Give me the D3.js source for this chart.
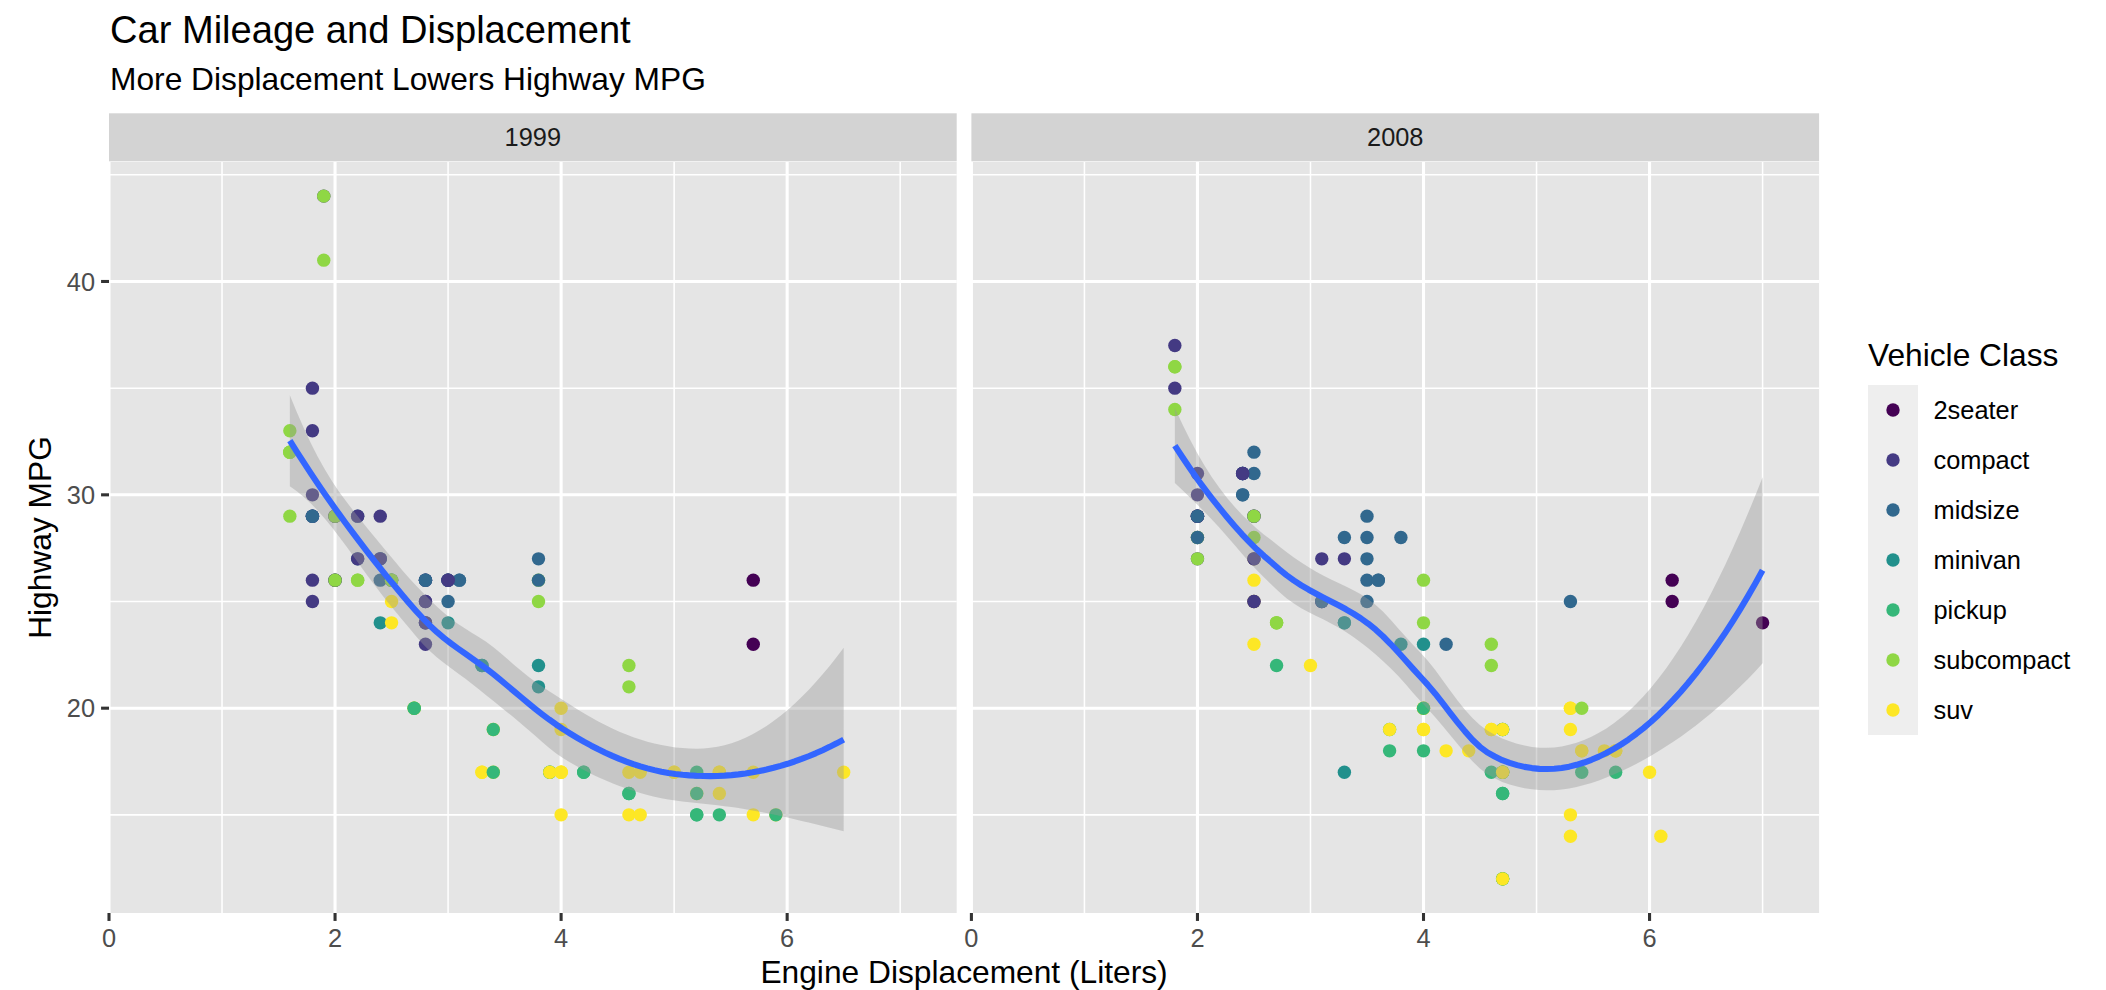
<!DOCTYPE html>
<html>
<head>
<meta charset="utf-8">
<script src="https://cdn.jsdelivr.net/npm/d3@7"></script>
<style>
  body { margin: 0; background: #ffffff; }
  svg { display: block; }
  text { font-family: "Liberation Sans", Arial, Helvetica, sans-serif; }
</style>
</head>
<body>
<svg id="chart" width="2106" height="990"></svg>
<script>
// ---------------------------------------------------------------
// Data: engine displacement (L), highway MPG and vehicle class,
// one set of arrays per model year, in the original row order.
// ---------------------------------------------------------------
const classes = ["2seater", "compact", "midsize", "minivan", "pickup", "subcompact", "suv"];
const classColors = ["#440154", "#443A83", "#31688E", "#21908C", "#35B779", "#8FD744", "#FDE725"];
const years = ["1999", "2008"];

const displ1999 = [1.8,1.8,2.8,2.8,1.8,1.8,2.8,2.8,2.8,5.7,5.7,5.7,5.7,6.5,2.4,3.1,2.4,3.0,3.3,3.3,
  3.8,3.8,3.9,3.9,5.2,5.2,3.9,5.2,5.9,5.2,5.2,5.9,4.6,5.4,4.0,4.0,4.0,5.0,4.2,4.2,
  4.6,4.6,5.4,3.8,3.8,4.6,4.6,1.6,1.6,1.6,1.6,1.6,2.4,2.4,2.5,2.5,2.0,2.0,4.0,4.7,
  4.0,4.6,5.4,5.4,4.0,5.0,2.4,2.4,3.0,3.0,3.3,3.3,3.1,3.8,3.8,2.5,2.5,2.2,2.2,2.5,
  2.5,2.7,2.7,3.4,3.4,2.2,2.2,3.0,3.0,2.2,2.2,3.0,3.0,1.8,1.8,1.8,4.7,2.7,2.7,3.4,
  3.4,2.0,2.0,2.8,1.9,2.0,2.0,2.8,2.8,1.9,1.9,2.0,2.0,1.8,1.8,2.8,2.8];
const hwy1999 = [29,29,26,26,26,25,25,25,24,17,26,23,15,17,27,26,24,24,22,22,
  22,21,17,17,15,17,17,16,15,15,16,15,17,17,17,19,17,17,17,17,
  16,16,15,26,25,21,22,33,32,32,29,32,26,27,26,26,26,29,20,17,
  15,15,17,16,17,17,29,27,26,25,17,17,26,26,27,25,24,26,26,26,
  26,20,20,19,17,29,27,26,26,27,29,26,26,30,33,35,15,20,20,17,
  19,29,26,24,44,29,26,23,24,44,41,29,26,29,29,26,26];
const class1999 = ["compact","compact","compact","compact","compact","compact","compact","compact","midsize","suv",
  "2seater","2seater","suv","suv","midsize","midsize","minivan","minivan","minivan","minivan",
  "minivan","minivan","pickup","pickup","pickup","pickup","suv","suv","suv","pickup",
  "pickup","pickup","suv","suv","suv","suv","suv","suv","pickup","pickup",
  "pickup","pickup","pickup","subcompact","subcompact","subcompact","subcompact","subcompact","subcompact","subcompact",
  "subcompact","subcompact","midsize","midsize","midsize","midsize","subcompact","subcompact","suv","suv",
  "suv","suv","suv","suv","suv","suv","compact","compact","midsize","midsize",
  "suv","suv","midsize","midsize","midsize","suv","suv","subcompact","subcompact","subcompact",
  "subcompact","suv","suv","suv","suv","midsize","midsize","midsize","midsize","compact",
  "compact","compact","compact","compact","compact","compact","suv","pickup","pickup","pickup",
  "pickup","compact","compact","compact","compact","compact","compact","compact","compact","subcompact",
  "subcompact","subcompact","subcompact","midsize","midsize","midsize","midsize"];

const displ2008 = [2.0,2.0,3.1,2.0,2.0,3.1,3.1,3.1,4.2,5.3,5.3,5.3,6.0,6.2,6.2,7.0,5.3,5.3,2.4,3.5,
  3.6,3.3,3.3,3.3,3.8,4.0,3.7,3.7,4.7,4.7,4.7,4.7,4.7,4.7,5.7,4.7,4.7,4.7,4.7,4.7,
  4.7,5.7,5.4,4.0,4.6,4.6,5.4,4.0,4.0,4.6,4.6,5.4,1.8,1.8,1.8,2.0,2.4,2.4,3.3,2.0,
  2.0,2.7,2.7,2.7,3.0,3.7,4.7,4.7,5.7,6.1,4.2,4.4,5.4,4.0,4.6,2.5,2.5,3.5,3.5,3.5,
  4.0,5.6,3.8,5.3,2.5,2.5,2.5,2.5,2.5,2.5,2.5,2.5,4.0,4.7,2.4,2.4,3.5,2.4,2.4,3.3,
  1.8,1.8,5.7,2.7,4.0,4.0,2.0,2.0,2.0,2.0,2.5,2.5,2.5,2.5,2.0,2.0,3.6];
const hwy2008 = [31,30,27,28,27,25,25,25,23,20,15,20,17,26,25,24,19,14,30,29,
  26,24,24,17,23,23,19,18,19,19,12,17,12,17,18,16,12,17,17,16,
  12,17,18,19,19,17,17,26,24,23,22,20,34,36,36,29,30,31,28,28,
  27,24,24,24,22,19,12,19,18,14,18,18,18,19,19,31,32,27,26,25,
  20,18,28,25,27,25,26,23,25,27,25,27,20,17,31,31,28,31,31,27,
  37,35,18,22,18,20,29,29,29,29,29,29,28,29,28,29,26];
const class2008 = ["compact","compact","compact","compact","compact","compact","compact","midsize","midsize","suv",
  "suv","suv","suv","2seater","2seater","2seater","suv","suv","midsize","midsize",
  "midsize","minivan","minivan","minivan","minivan","minivan","pickup","pickup","pickup","pickup",
  "pickup","suv","suv","suv","suv","pickup","pickup","pickup","pickup","pickup",
  "pickup","pickup","suv","suv","suv","pickup","pickup","subcompact","subcompact","subcompact",
  "subcompact","subcompact","subcompact","subcompact","subcompact","subcompact","midsize","midsize","midsize","subcompact",
  "subcompact","subcompact","subcompact","subcompact","suv","suv","suv","suv","suv","suv",
  "suv","suv","suv","suv","suv","midsize","midsize","midsize","midsize","midsize",
  "suv","suv","midsize","midsize","suv","suv","suv","suv","compact","compact",
  "compact","compact","suv","suv","midsize","midsize","midsize","compact","compact","compact",
  "compact","compact","suv","pickup","pickup","pickup","compact","compact","compact","compact",
  "compact","compact","subcompact","subcompact","midsize","midsize","midsize"];

const xLimits = [0, 7.5];
const xTicks = [0, 2, 4, 6];
const xMinor = [1, 3, 5, 7];
const yTicks = [20, 30, 40];
const yMinor = [15, 25, 35, 45];

const titleText = "Car Mileage and Displacement";
const subtitleText = "More Displacement Lowers Highway MPG";
const xTitle = "Engine Displacement (Liters)";
const yTitle = "Highway MPG";
const legendTitle = "Vehicle Class";

const panelsData = [
  { label: years[0], displ: displ1999, hwy: hwy1999, cls: class1999 },
  { label: years[1], displ: displ2008, hwy: hwy2008, cls: class2008 }
];

// ---------------------------------------------------------------
// Local quadratic regression (loess, span 0.75) evaluated through a
// kd-tree of vertices with cubic Hermite interpolation, plus the
// pointwise 95% confidence band.
// ---------------------------------------------------------------
function inv3(m) {
  const [a, b, c] = m[0], [d, e, f] = m[1], [g, h, i] = m[2];
  const A = e * i - f * h, B = -(d * i - f * g), C = d * h - e * g;
  const det = a * A + b * B + c * C;
  return [
    [A / det, -(b * i - c * h) / det, (b * f - c * e) / det],
    [B / det, (a * i - c * g) / det, -(a * f - c * d) / det],
    [C / det, -(a * h - b * g) / det, (a * e - b * d) / det]
  ];
}

function qt975(df) {
  const z = 1.959963984540054;
  const z3 = z * z * z, z5 = z3 * z * z, z7 = z5 * z * z;
  const g1 = (z3 + z) / 4;
  const g2 = (5 * z5 + 16 * z3 + 3 * z) / 96;
  const g3 = (3 * z7 + 19 * z5 + 17 * z3 - 15 * z) / 384;
  return z + g1 / df + g2 / (df * df) + g3 / (df * df * df);
}

function loessSmooth(xs, ys, span, nOut) {
  const n = xs.length;
  const sx = xs.slice().sort((a, b) => a - b);
  const q = Math.floor(n * span + 1e-5);
  const fc = Math.floor(n * span * 0.2);
  const lo = sx[0], hi = sx[n - 1];
  const mu = 0.005 * Math.max(hi - lo, 1e-10 * Math.max(Math.abs(lo), Math.abs(hi)) + 1e-30);
  const verts = [lo - mu, hi + mu];

  (function split(l, u, vlo, vhi) {
    if (u - l + 1 <= fc) return;
    let m = Math.floor((l + u) / 2);
    let off = 0;
    while (m + off < u && m + off >= l) {
      if (sx[m + off] === sx[m + off + 1]) {
        off = -off;
        if (off >= 0) off += 1;
      } else {
        m = m + off;
        break;
      }
    }
    const xi = sx[m];
    if (xi === vlo || xi === vhi) return;
    verts.push(xi);
    split(l, m, vlo, xi);
    split(m + 1, u, xi, vhi);
  })(0, n - 1, verts[0], verts[1]);
  verts.sort((a, b) => a - b);

  function localRows(v) {
    const d = xs.map(x => Math.abs(x - v));
    const rho = d.slice().sort((a, b) => a - b)[q - 1];
    const w = d.map(di => di < rho ? Math.pow(1 - Math.pow(di / rho, 3), 3) : 0);
    const S = [[0, 0, 0], [0, 0, 0], [0, 0, 0]];
    for (let i = 0; i < n; i++) {
      const t = xs[i] - v, b = [1, t, t * t];
      for (let r = 0; r < 3; r++) for (let c = 0; c < 3; c++) S[r][c] += w[i] * b[r] * b[c];
    }
    const Si = inv3(S);
    const val = new Array(n), slope = new Array(n);
    for (let i = 0; i < n; i++) {
      const t = xs[i] - v;
      val[i] = w[i] * (Si[0][0] + Si[0][1] * t + Si[0][2] * t * t);
      slope[i] = w[i] * (Si[1][0] + Si[1][1] * t + Si[1][2] * t * t);
    }
    return { val, slope };
  }
  const vrows = verts.map(localRows);

  function rowAt(z) {
    let k = d3.bisectLeft(verts, z) - 1;
    k = Math.max(0, Math.min(verts.length - 2, k));
    const v0 = verts[k], v1 = verts[k + 1], h = v1 - v0, u = (z - v0) / h;
    const phi0 = (1 - u) * (1 - u) * (1 + 2 * u), phi1 = u * u * (3 - 2 * u);
    const psi0 = u * (1 - u) * (1 - u), psi1 = -u * u * (1 - u);
    const A = vrows[k], B = vrows[k + 1];
    const row = new Array(n);
    for (let i = 0; i < n; i++) {
      row[i] = phi0 * A.val[i] + phi1 * B.val[i] + (psi0 * A.slope[i] + psi1 * B.slope[i]) * h;
    }
    return row;
  }

  // operator matrix at the observations
  const L = xs.map(rowAt);
  const fitted = L.map(r => d3.sum(r, (l, i) => l * ys[i]));
  const rss = d3.sum(ys, (y, i) => (y - fitted[i]) ** 2);
  const B = L.map((r, i) => r.map((l, j) => (i === j ? 1 : 0) - l));
  let delta1 = 0, delta2 = 0;
  for (let j = 0; j < n; j++) {
    for (let k = 0; k < n; k++) {
      let s = 0;
      for (let i = 0; i < n; i++) s += B[i][j] * B[i][k];
      if (j === k) delta1 += s;
      delta2 += s * s;
    }
  }
  const sigma = Math.sqrt(rss / delta1);
  const tq = qt975(delta1 * delta1 / delta2);

  const xmin = d3.min(xs), xmax = d3.max(xs);
  return d3.range(nOut).map(i => {
    const x = xmin + (xmax - xmin) * i / (nOut - 1);
    const r = rowAt(x);
    const fit = d3.sum(r, (l, j) => l * ys[j]);
    const se = sigma * Math.sqrt(d3.sum(r, l => l * l));
    return { x, y: fit, ymin: fit - tq * se, ymax: fit + tq * se };
  });
}

panelsData.forEach(p => { p.smooth = loessSmooth(p.displ, p.hwy, 0.75, 80); });

// ---------------------------------------------------------------
// Layout (1 pt = 2.885 px)
// ---------------------------------------------------------------
const PT = 2.885;
const fsTitle = 13.2 * PT, fsBase = 11 * PT, fsSmall = 8.8 * PT;
const gridMajor = 3.08, gridMinor = 1.54, tickLen = 2.75 * PT;

const svg = d3.select("#chart");
const panelTop = 162, panelBottom = 913;
const stripTop = 113.3, stripBottom = 161.3;
const panelW = 847.7, panelGap = 14.7, firstLeft = 109;
const panelLefts = [firstLeft, firstLeft + panelW + panelGap];

const yExtent = d3.extent([
  ...hwy1999, ...hwy2008,
  ...panelsData.flatMap(p => p.smooth.flatMap(d => [d.ymin, d.ymax]))
]);
const yPad = (yExtent[1] - yExtent[0]) * 0.05;
const y = d3.scaleLinear().domain([yExtent[0] - yPad, yExtent[1] + yPad]).range([panelBottom, panelTop]);
const colour = d3.scaleOrdinal().domain(classes).range(classColors);

const defs = svg.append("defs");

panelsData.forEach((p, pi) => {
  const left = panelLefts[pi];
  const x = d3.scaleLinear().domain(xLimits).range([left, left + panelW]);
  const g = svg.append("g");

  // strip
  g.append("rect").attr("x", left).attr("y", stripTop).attr("width", panelW)
    .attr("height", stripBottom - stripTop).attr("fill", "#D3D3D3");
  g.append("text").attr("x", left + panelW / 2).attr("y", (stripTop + stripBottom) / 2 + 9.1)
    .attr("text-anchor", "middle").attr("font-size", fsSmall).attr("fill", "#1A1A1A").text(p.label);

  // panel background + grid
  g.append("rect").attr("x", left).attr("y", panelTop).attr("width", panelW)
    .attr("height", panelBottom - panelTop).attr("fill", "#E5E5E5");
  const grid = g.append("g").attr("stroke", "#ffffff");
  grid.selectAll(".ymin").data(yMinor).join("line")
    .attr("x1", left).attr("x2", left + panelW).attr("y1", d => y(d)).attr("y2", d => y(d)).attr("stroke-width", gridMinor);
  grid.selectAll(".xmin").data(xMinor).join("line")
    .attr("y1", panelTop).attr("y2", panelBottom).attr("x1", d => x(d)).attr("x2", d => x(d)).attr("stroke-width", gridMinor);
  grid.selectAll(".ymaj").data(yTicks).join("line")
    .attr("x1", left).attr("x2", left + panelW).attr("y1", d => y(d)).attr("y2", d => y(d)).attr("stroke-width", gridMajor);
  grid.selectAll(".xmaj").data(xTicks).join("line")
    .attr("y1", panelTop).attr("y2", panelBottom).attr("x1", d => x(d)).attr("x2", d => x(d)).attr("stroke-width", gridMajor);

  const clipId = "clip" + pi;
  defs.append("clipPath").attr("id", clipId).append("rect")
    .attr("x", left).attr("y", panelTop).attr("width", panelW).attr("height", panelBottom - panelTop);
  const plot = g.append("g").attr("clip-path", `url(#${clipId})`);

  // points
  plot.selectAll("circle").data(p.displ.map((d, i) => ({ x: d, y: p.hwy[i], c: p.cls[i] })))
    .join("circle")
    .attr("cx", d => x(d.x)).attr("cy", d => y(d.y)).attr("r", 6.7)
    .attr("fill", d => colour(d.c));

  // confidence band and smooth
  plot.append("path").datum(p.smooth)
    .attr("d", d3.area().x(d => x(d.x)).y0(d => y(d.ymin)).y1(d => y(d.ymax)))
    .attr("fill", "#999999").attr("fill-opacity", 0.4);
  plot.append("path").datum(p.smooth)
    .attr("d", d3.line().x(d => x(d.x)).y(d => y(d.y)))
    .attr("fill", "none").attr("stroke", "#3366FF").attr("stroke-width", 6.1)
    .attr("stroke-linejoin", "round");

  // bottom axis
  const xa = g.append("g");
  xa.selectAll("line").data(xTicks).join("line")
    .attr("x1", d => x(d)).attr("x2", d => x(d)).attr("y1", panelBottom).attr("y2", panelBottom + tickLen)
    .attr("stroke", "#333333").attr("stroke-width", gridMajor);
  xa.selectAll("text").data(xTicks).join("text")
    .attr("x", d => x(d)).attr("y", 947)
    .attr("text-anchor", "middle").attr("font-size", fsSmall).attr("fill", "#4D4D4D").text(d => d);

  // left axis on the first panel only
  if (pi === 0) {
    const ya = g.append("g");
    ya.selectAll("line").data(yTicks).join("line")
      .attr("x1", left - tickLen).attr("x2", left).attr("y1", d => y(d)).attr("y2", d => y(d))
      .attr("stroke", "#333333").attr("stroke-width", gridMajor);
    ya.selectAll("text").data(yTicks).join("text")
      .attr("x", 95).attr("y", d => y(d) + 9.1)
      .attr("text-anchor", "end").attr("font-size", fsSmall).attr("fill", "#4D4D4D").text(d => d);
  }
});

// titles
svg.append("text").attr("x", firstLeft + 1).attr("y", 43.3).attr("font-size", fsTitle).attr("fill", "#000").text(titleText);
svg.append("text").attr("x", firstLeft + 1).attr("y", 90).attr("font-size", fsBase).attr("fill", "#000").text(subtitleText);
const plotCenterX = (panelLefts[0] + panelLefts[1] + panelW) / 2;
svg.append("text").attr("x", plotCenterX).attr("y", 983).attr("text-anchor", "middle")
  .attr("font-size", fsBase).attr("fill", "#000").text(xTitle);
svg.append("text").attr("transform", `translate(51,${(panelTop + panelBottom) / 2}) rotate(-90)`)
  .attr("text-anchor", "middle").attr("font-size", fsBase).attr("fill", "#000").text(yTitle);

// legend
const legX = 1868, legKeyTop = 385, keyW = 50, keyH = 50;
const leg = svg.append("g");
leg.append("text").attr("x", legX).attr("y", 365.7).attr("font-size", fsBase).attr("fill", "#000").text(legendTitle);
leg.append("rect").attr("x", legX).attr("y", legKeyTop).attr("width", keyW).attr("height", keyH * classes.length)
  .attr("fill", "#EEEEEE");
const items = leg.selectAll("g.item").data(classes).join("g")
  .attr("transform", (d, i) => `translate(${legX},${legKeyTop + i * keyH})`);
items.append("circle").attr("cx", keyW / 2).attr("cy", keyH / 2).attr("r", 6.7).attr("fill", d => colour(d));
items.append("text").attr("x", 65.5).attr("y", keyH / 2 + 9.1).attr("font-size", fsSmall).attr("fill", "#000").text(d => d);
</script>
</body>
</html>
